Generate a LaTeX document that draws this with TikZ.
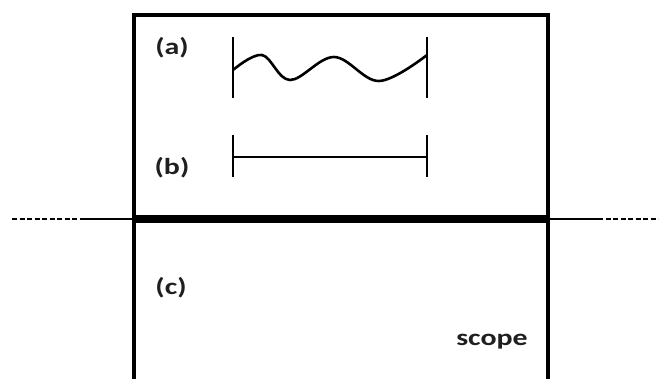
\documentclass[tikz,border=0pt]{standalone}
\usepackage{fontspec}
\setmainfont{Carlito}
\newcommand\widetext[1]{\scalebox{1.3}[1]{#1}}
\begin{document}
\begin{tikzpicture}[x=1pt,y=-1pt,
  lbl/.style={font=\bfseries\fontsize{23}{26}\selectfont, text=black!88, inner sep=0pt},
  boxline/.style={line width=3.2pt, line cap=butt},
  bar/.style={line width=2.8pt},
  thin/.style={line width=2.6pt},
  dotline/.style={line width=2.6pt, dash pattern=on 5pt off 2.5pt}]
\useasboundingbox (0,0) rectangle (662,379);
% box
\draw[boxline, line join=miter] (134,379) -- (134,15) -- (548,15) -- (548,379);
% boundary line
\draw[line width=7.5pt] (134,219) -- (548,219);
\draw[thin] (83,219) -- (134,219);
\draw[thin] (548,219) -- (598,219);
\draw[dotline] (12,219) -- (83,219);
\draw[dotline] (598,219) -- (658,219);
% (a) wave
\draw[bar] (233,37) -- (233,98);
\draw[bar] (427,37) -- (427,98);
\draw[line width=2.6pt] plot[smooth, tension=0.6] coordinates {(233,70) (262,55) (290,80) (334,57) (379,81) (427,55)};
% (b) segment
\draw[bar] (233,135) -- (233,177);
\draw[bar] (427,135) -- (427,177);
\draw[line width=2.6pt] (233,157) -- (427,157);
% labels
\node[lbl] (la) at (172,48) {\widetext{(a)}};
\node[lbl] (lb) at (172,168) {\widetext{(b)}};
\node[lbl] (lc) at (171,288) {\widetext{(c)}};
\node[lbl] (ls) at (492,342) {\widetext{scope}};
\end{tikzpicture}
\end{document}
